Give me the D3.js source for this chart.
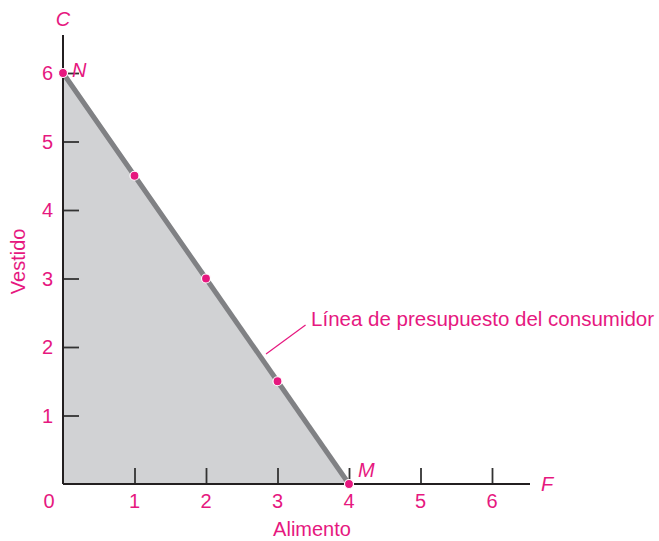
<!DOCTYPE html>
<html>
<head>
<meta charset="utf-8">
<script src="https://cdn.jsdelivr.net/npm/d3@7"></script>
<style>
  body { margin: 0; background: #fff; }
  svg text { font-family: "Liberation Sans", Arial, sans-serif; }
</style>
</head>
<body>
<svg id="chart"></svg>
<script>
const WIDTH = 659;
const HEIGHT = 541;
const PINK = '#e6187f';

// data
const xTicks = [0, 1, 2, 3, 4, 5, 6];
const yTicks = [1, 2, 3, 4, 5, 6];
const budgetX = [0, 1, 2, 3, 4];
const budgetY = [6, 4.5, 3, 1.5, 0];
const pointLabels = [{x: 0, y: 6, name: 'N'}, {x: 4, y: 0, name: 'M'}];

const svg = d3.select('#chart').attr('width', WIDTH).attr('height', HEIGHT);

const xScale = d3.scaleLinear().domain([0, 6]).range([63, 492]);
const yScale = d3.scaleLinear().domain([0, 6]).range([484, 73]);

const pts = budgetX.map((x, i) => ({x: x, y: budgetY[i]}));

// shaded area under the budget line
svg.append('path')
    .datum(pts)
    .attr('fill', '#d1d2d4')
    .attr('d', d3.area().x(d => xScale(d.x)).y0(yScale(0)).y1(d => yScale(d.y)));

// budget line
svg.append('path')
    .datum(pts)
    .attr('fill', 'none')
    .attr('stroke', '#808184')
    .attr('stroke-width', 5)
    .attr('d', d3.line().x(d => xScale(d.x)).y(d => yScale(d.y)));

// axes (ticks point inward)
const xAxis = d3.axisBottom(xScale).tickValues(xTicks.slice(1)).tickSize(-16).tickFormat('');
svg.append('g').attr('transform', 'translate(0,' + yScale(0) + ')').call(xAxis)
    .call(g => g.select('.domain').remove())
    .selectAll('line').attr('stroke', '#333').attr('stroke-width', 1.8);

const yAxis = d3.axisLeft(yScale).tickValues(yTicks).tickSize(-16).tickFormat('');
svg.append('g').attr('transform', 'translate(' + xScale(0) + ',0)').call(yAxis)
    .call(g => g.select('.domain').remove())
    .selectAll('line').attr('stroke', '#333').attr('stroke-width', 1.8);

svg.append('line')
    .attr('x1', xScale(0)).attr('x2', 530)
    .attr('y1', yScale(0)).attr('y2', yScale(0))
    .attr('stroke', '#231f20').attr('stroke-width', 2);
svg.append('line')
    .attr('x1', xScale(0)).attr('x2', xScale(0))
    .attr('y1', yScale(0)).attr('y2', 35)
    .attr('stroke', '#231f20').attr('stroke-width', 2);

// tick labels
svg.selectAll('.xlab').data(xTicks).enter().append('text')
    .attr('x', d => d === 0 ? xScale(0) - 14 : xScale(d))
    .attr('y', yScale(0) + 24)
    .attr('text-anchor', 'middle')
    .attr('fill', PINK).attr('font-size', 20)
    .text(d => d);

svg.selectAll('.ylab').data(yTicks).enter().append('text')
    .attr('x', xScale(0) - 10)
    .attr('y', d => yScale(d) + 7)
    .attr('text-anchor', 'end')
    .attr('fill', PINK).attr('font-size', 20)
    .text(d => d);

// axis titles
svg.append('text').attr('x', 312).attr('y', 536).attr('text-anchor', 'middle')
    .attr('fill', PINK).attr('font-size', 20).text('Alimento');
svg.append('text').attr('transform', 'translate(25,' + yScale(3.25) + ') rotate(-90)')
    .attr('text-anchor', 'middle')
    .attr('fill', PINK).attr('font-size', 20).text('Vestido');
svg.append('text').attr('x', xScale(0)).attr('y', 26).attr('text-anchor', 'middle')
    .attr('fill', PINK).attr('font-size', 20).attr('font-style', 'italic').text('C');
svg.append('text').attr('x', 547).attr('y', 491).attr('text-anchor', 'middle')
    .attr('fill', PINK).attr('font-size', 20).attr('font-style', 'italic').text('F');

// points
svg.selectAll('.pt').data(pts).enter().append('circle')
    .attr('cx', d => xScale(d.x)).attr('cy', d => yScale(d.y))
    .attr('r', 4.5).attr('fill', PINK)
    .attr('stroke', '#fff').attr('stroke-width', 1.2);

svg.selectAll('.plab').data(pointLabels).enter().append('text')
    .attr('x', d => xScale(d.x) + 9)
    .attr('y', d => yScale(d.y) + (d.y > 0 ? 4 : -7))
    .attr('fill', PINK).attr('font-size', 20).attr('font-style', 'italic')
    .text(d => d.name);

// leader label
const leadX = 2.735;
const lx = xScale(leadX), ly = yScale(6 - 1.5 * leadX);
svg.append('line')
    .attr('x1', lx + 7.5).attr('y1', ly)
    .attr('x2', lx + 47).attr('y2', ly - 29)
    .attr('stroke', PINK).attr('stroke-width', 1.2);
svg.append('text').attr('x', lx + 52.5).attr('y', ly - 28)
    .attr('fill', PINK).attr('font-size', 20.5)
    .text('Línea de presupuesto del consumidor');
</script>
</body>
</html>
